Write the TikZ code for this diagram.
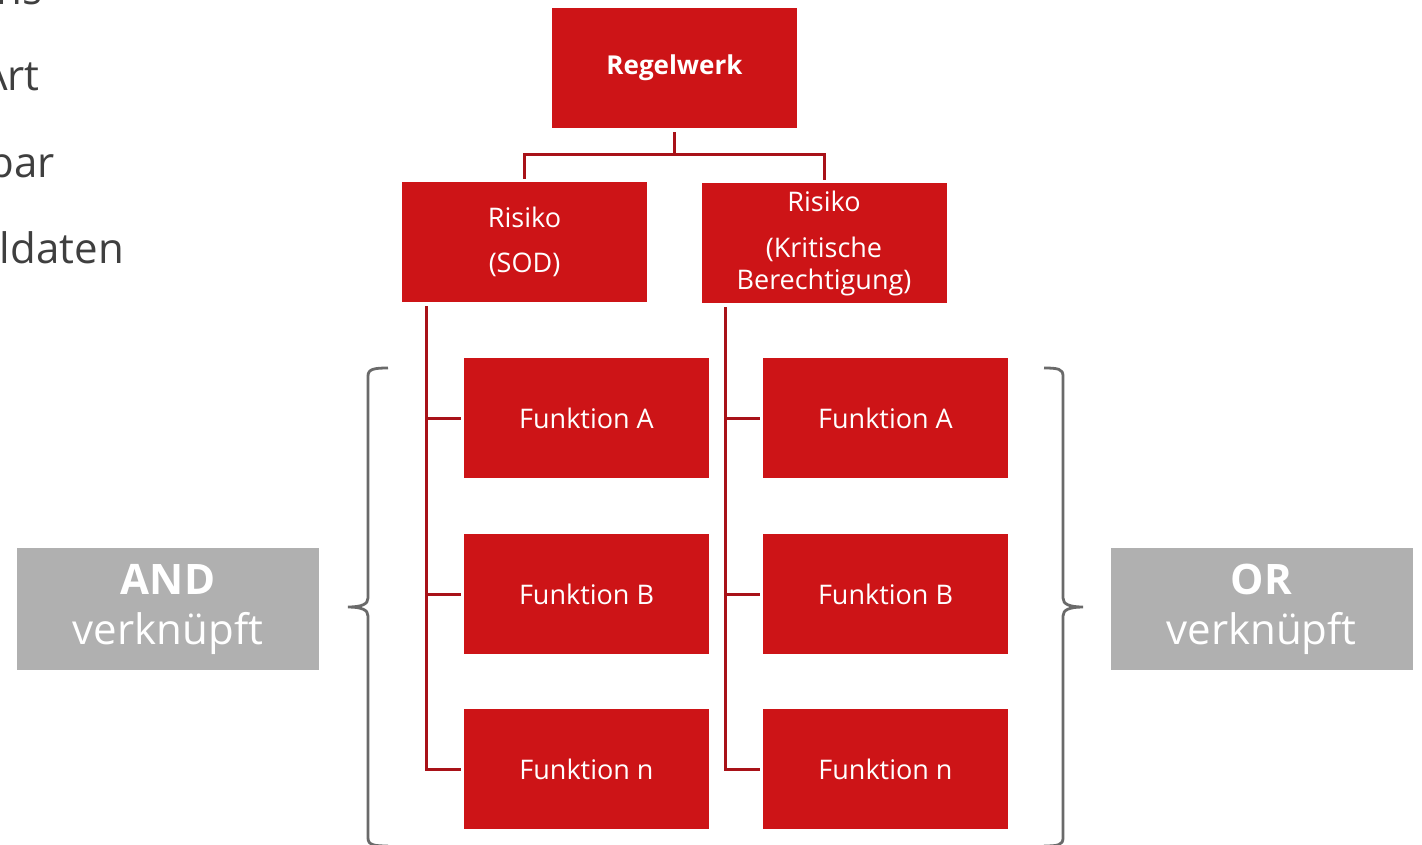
\documentclass[tikz,border=0pt]{standalone}
\usepackage{fontspec}
\setmainfont{Open Sans}
\definecolor{boxred}{HTML}{CD1417}
\definecolor{linkred}{HTML}{A81218}
\definecolor{tagGray}{HTML}{B0B0B0}
\definecolor{braceGray}{HTML}{6A6A6A}
\definecolor{bodytext}{HTML}{3F3F3F}
\begin{document}
\begin{tikzpicture}[x=1pt,y=-1pt,
  redbox/.style={fill=boxred, minimum width=245pt, minimum height=120pt,
    inner sep=0pt, text=white, align=center, font=\fontsize{27}{32}\selectfont},
  tag/.style={fill=tagGray, minimum width=302pt, minimum height=122pt,
    inner sep=0pt, text=white, align=center, font=\fontsize{42}{50}\selectfont},
  link/.style={draw=linkred, line width=3pt},
  bracket/.style={draw=braceGray, line width=2.8pt},
  frag/.style={text=bodytext, inner sep=0pt, font=\fontsize{42}{50}\selectfont}]
\useasboundingbox (0,0) rectangle (1422,844);
\clip (0,0) rectangle (1422,844);

% bullet text running in from the left
\node[frag, anchor=base east] (f1) at (43,4) {ns};
\node[frag, anchor=base east] (f2) at (40,90) {Art};
\node[frag, anchor=base east] (f3) at (55,177) {bar};
\node[frag, anchor=base east] (f4) at (124,263) {ldaten};

% rule set and its risks
\node[redbox, font=\bfseries\fontsize{26}{30}\selectfont] (root) at (674.5,68) {Regelwerk};
\node[redbox] (sod) at (524.5,242) {Risiko\\[13pt](SOD)};
\node[redbox] (krit) at (824,243) {Risiko\\[14pt](Kritische\\Berechtigung)};

% functions of each risk
\node[redbox] (fa1) at (586.5,418) {Funktion A};
\node[redbox] (fb1) at (586.5,594) {Funktion B};
\node[redbox] (fn1) at (586.5,769) {Funktion n};
\node[redbox] (fa2) at (885.5,418) {Funktion A};
\node[redbox] (fb2) at (885.5,594) {Funktion B};
\node[redbox] (fn2) at (885.5,769) {Funktion n};

% logic labels
\node[tag] (andtag) at (168,609) {\textbf{AND}\\verknüpft};
\node[tag] (ortag) at (1261.5,609) {\textbf{OR}\\verknüpft};

% tree connectors
\coordinate (split) at (674.5,154);
\draw[link] ([yshift=-4pt]root.south) -- (split);
\draw[link] ([yshift=3pt]sod.north) |- (split) -| ([yshift=3pt]krit.north);

\draw[link] ([xshift=-98.5pt,yshift=-4pt]sod.south) |- ([xshift=-3pt]fa1.west);
\draw[link] ([xshift=-98.5pt,yshift=-4pt]sod.south) |- ([xshift=-3pt]fb1.west);
\draw[link] ([xshift=-98.5pt,yshift=-4pt]sod.south) |- ([xshift=-3pt]fn1.west);
\draw[link] ([xshift=-99pt,yshift=-4pt]krit.south) |- ([xshift=-3pt]fa2.west);
\draw[link] ([xshift=-99pt,yshift=-4pt]krit.south) |- ([xshift=-3pt]fb2.west);
\draw[link] ([xshift=-99pt,yshift=-4pt]krit.south) |- ([xshift=-3pt]fn2.west);

% curly brackets
\draw[bracket] (388,368) .. controls (374,368) and (368,369) .. (368,376)
  -- (368,598) .. controls (368,604) and (362,607) .. (348,607)
  .. controls (362,607) and (368,610) .. (368,616)
  -- (368,838) .. controls (368,845) and (374,846) .. (388,846);
\draw[bracket] (1044,368) .. controls (1058,368) and (1063,369) .. (1063,376)
  -- (1063,598) .. controls (1063,604) and (1069,607) .. (1083,607)
  .. controls (1069,607) and (1063,610) .. (1063,616)
  -- (1063,838) .. controls (1063,845) and (1058,846) .. (1044,846);
\end{tikzpicture}
\end{document}
